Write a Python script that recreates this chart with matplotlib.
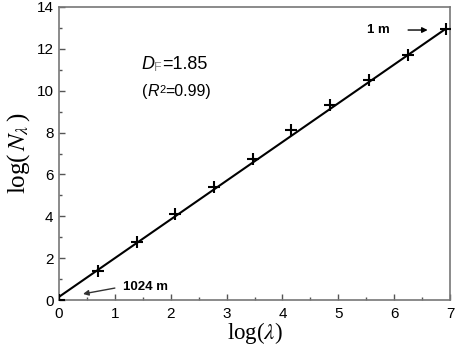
import matplotlib
matplotlib.use("Agg")
import matplotlib.pyplot as plt
import numpy as np
from matplotlib.ticker import MultipleLocator

plt.rcParams['mathtext.fontset'] = 'stix'

log_lambda = [0.0, 0.69, 1.39, 2.08, 2.77, 3.47, 4.16, 4.85, 5.55, 6.24, 6.93]
log_N = [0.0, 1.37, 2.76, 4.11, 5.38, 6.76, 8.12, 9.30, 10.51, 11.71, 12.93]
fit_slope = 1.85
fit_intercept = 0.15
fit_x = [0.0, 6.93]

fig = plt.figure(figsize=(4.59, 3.47), dpi=100)
ax = fig.add_axes([59/459, 1-300/347, 391/459, 293/347])

fx = np.array(fit_x)
ax.plot(fx, fit_slope*fx + fit_intercept, color='black', lw=1.5, zorder=2)
ax.plot(log_lambda, log_N, linestyle='none', marker='+', ms=9, mew=1.5, color='black', zorder=3)

ax.set_xlim(0, 7)
ax.set_ylim(0, 14)
ax.xaxis.set_major_locator(MultipleLocator(1))
ax.xaxis.set_minor_locator(MultipleLocator(0.5))
ax.yaxis.set_major_locator(MultipleLocator(2))
ax.yaxis.set_minor_locator(MultipleLocator(1))
ax.tick_params(which='both', direction='in', top=False, right=False, labelsize=11, colors='#555555', labelcolor='black')
ax.tick_params(which='major', length=4, width=1, pad=4)
ax.tick_params(which='minor', length=2.5, width=1)
ax.tick_params(axis='x', which='major', pad=5)
for lbl in ax.get_xticklabels() + ax.get_yticklabels():
    lbl.set_fontfamily('Liberation Sans')
for s in ax.spines.values():
    s.set_color('#777777')
    s.set_linewidth(1.2)

ax.set_xlabel(r'log($\lambda$)', fontfamily='Liberation Serif', fontsize=16.5, labelpad=-1)
ax.set_ylabel(r'log($\,N_\lambda\,$)', fontfamily='Liberation Serif', fontsize=18, labelpad=3)

sans = 'Liberation Sans'
t1 = ax.text(1.47, 11.23, 'D', fontsize=13, fontfamily=sans, style='italic', ha='left', va='center')
t2 = ax.annotate('F', xy=(1.0, -0.05), xycoords=t1, fontsize=9, fontfamily=sans, color='#888888',
                 ha='left', va='bottom')
t3 = ax.annotate('=1.85', xy=(1.0, 0.5), xycoords=(t2, t1), fontsize=13, fontfamily=sans,
                 ha='left', va='center')

r1 = ax.text(1.49, 9.94, '(', fontsize=11.5, fontfamily=sans, ha='left', va='center')
r2 = ax.annotate('R', xy=(1.0, 0.5), xycoords=r1, fontsize=11.5, fontfamily=sans, style='italic',
                 ha='left', va='center')
r3 = ax.annotate('2', xy=(1.0, 0.95), xycoords=r2, fontsize=8, fontfamily=sans, ha='left', va='top')
r4 = ax.annotate('=0.99)', xy=(1.0, 0.5), xycoords=(r3, r1), fontsize=11.5, fontfamily=sans,
                 ha='left', va='center')

ax.text(5.51, 12.9, '1 m', fontsize=9.5, fontfamily=sans, fontweight='bold', ha='left', va='center')
ax.annotate('', xy=(6.6, 12.9), xytext=(6.25, 12.9),
            arrowprops=dict(arrowstyle='-|>', color='black', lw=1, shrinkA=0, shrinkB=0, mutation_scale=8))
ax.text(1.14, 0.62, '1024 m', fontsize=9.5, fontfamily=sans, fontweight='bold', ha='left', va='center')
ax.annotate('', xy=(0.43, 0.29), xytext=(1.0, 0.57),
            arrowprops=dict(arrowstyle='-|>', color='#333333', lw=1, shrinkA=0, shrinkB=0, mutation_scale=8))

fig.savefig('out.png', dpi=100)
